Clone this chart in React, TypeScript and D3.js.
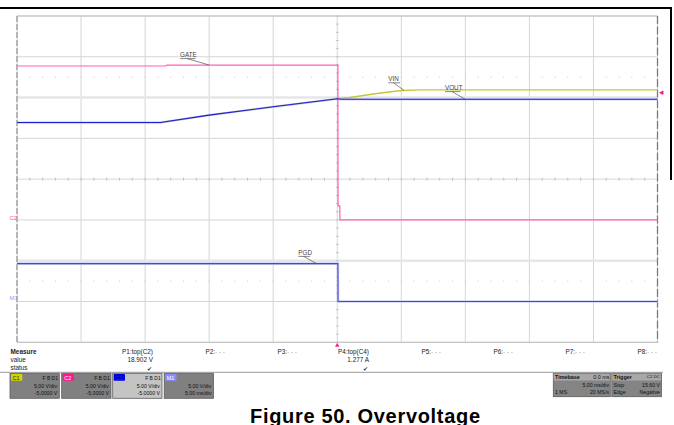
import React from "react";
import * as d3 from "d3";

// ---- data (time in ms, values in volts) ----
const vinTime = [-25, -13.8, -10, -5, 0, 1, 2.8, 5, 6.5, 25];
const vinVolts = [11.94, 11.94, 12.85, 13.87, 14.85, 15.01, 15.43, 15.87, 15.94, 15.94];
const gateTime = [-25, -13.4, -13.3, 0.05, 0.06, 0.2, 0.21, 25];
const gateVolts = [18.87, 18.87, 18.99, 18.99, 1.72, 1.72, 0, 0];
const voutTime = [-25, -13.8, -10, -5, 0, 0.3, 25];
const voutVolts = [11.94, 11.94, 12.85, 13.87, 14.85, 14.79, 14.79];
const pgdTime = [-25, 0.05, 0.06, 25];
const pgdVolts = [4.64, 4.64, 0, 0];

const channelNames = ["C1", "C2", "C3", "M1"];
const channelOffsetDiv = [-1, -1, -1, -3];
const voltsPerDiv = 5;
const triggerLevel = 15.6;

const measureHeads = ["P1:top(C2)", "P2:", "P3:", "P4:top(C4)", "P5:", "P6:", "P7:", "P8:"];
const measureValues = ["18.902 V", "", "", "1.277 A", "", "", "", ""];
const measureStatus = [true, false, false, true, false, false, false, false];

const boxScales = ["5.00 V/div", "5.00 V/div", "5.00 V/div", "5.00 V/div"];
const boxOffsets = ["-5.0000 V", "-5.0000 V", "-5.0000 V", "5.00 ms/div"];

const FONT = "'Liberation Sans', Arial, Helvetica, sans-serif";

const W = 674;
const H = 425;
const PX0 = 17;
const PX1 = 657.5;
const PY0 = 16;
const PY1 = 342.3;

const x = d3.scaleLinear().domain([-25, 25]).range([PX0, PX1]);
const yDiv = d3.scaleLinear().domain([-4, 4]).range([PY1, PY0]);

function linePath(ts: number[], vs: number[], offDiv: number) {
  const pts = ts.map((t, i) => [t, vs[i]] as [number, number]);
  const g = d3
    .line<[number, number]>()
    .x((d) => x(d[0]))
    .y((d) => yDiv(d[1] / voltsPerDiv + offDiv));
  return g(pts) || "";
}

function Label({ text, tx, ty, toT, toV, off }: { text: string; tx: number; ty: number; toT: number; toV: number; off: number }) {
  const w = text.length * 3.9;
  const ux = tx + w * 0.45;
  return (
    <g>
      <text x={tx} y={ty} fontSize={6.3} fontFamily={FONT} fill="#444">{text}</text>
      <line x1={tx} x2={tx + w} y1={ty + 1.4} y2={ty + 1.4} stroke="#555" strokeWidth={0.7} />
      <line x1={ux} y1={ty + 1.4} x2={x(toT)} y2={yDiv(toV / voltsPerDiv + off)} stroke="#555" strokeWidth={0.7} />
    </g>
  );
}

export default function App() {
  const vLines = d3.range(0, 11).map((i) => PX0 + (i * (PX1 - PX0)) / 10);
  const hLines = d3.range(-4, 5);
  const minorX = d3.range(0, 51).map((i) => PX0 + (i * (PX1 - PX0)) / 50);
  const minorY = d3.range(0, 41).map((i) => PY0 + (i * (PY1 - PY0)) / 40);
  const cx = x(0);
  const cy = yDiv(0);

  const boxX = [10, 61.7, 112.7, 164.2];
  const boxW = 49.3;
  const boxY = 373.3;
  const boxH = 25;
  const badgeFill = ["#d4d400", "#ff1a8c", "#0000e6", "#8c8cff"];
  const badgeText = ["#222", "#fff", "#2a2a90", "#fff"];

  const colRight = d3.range(0, 8).map((i) => 153 + i * 72);

  return (
    <svg width={W} height={H} style={{ position: "absolute", left: 0, top: 0, background: "#fff" }} fontFamily={FONT}>
      <rect x={0} y={0} width={W} height={H} fill="#fff" />
      {/* frame */}
      <line x1={0} x2={672} y1={8} y2={8} stroke="#000" strokeWidth={2} />
      <line x1={671} x2={671} y1={7} y2={180} stroke="#000" strokeWidth={2} />

      {/* grid */}
      {vLines.map((vx, i) => (
        <line key={"v" + i} x1={vx} x2={vx} y1={PY0} y2={PY1} stroke="#d6d6d6" strokeWidth={1} />
      ))}
      {hLines.map((d) => (
        <line key={"h" + d} x1={PX0} x2={PX1} y1={yDiv(d)} y2={yDiv(d)} stroke={Math.abs(d) === 2 ? "#e6e6e6" : "#d6d6d6"} strokeWidth={Math.abs(d) === 2 ? 2.5 : 1} />
      ))}
      {/* dotted rows */}
      {[2.5, -2.5].map((d) =>
        minorX.slice(1, -1).map((mx, i) => (
          <rect key={"dot" + d + i} x={mx - 0.5} y={yDiv(d) - 0.5} width={1} height={1} fill="#c8c8c8" />
        ))
      )}
      {/* center ticks */}
      {minorX.map((mx, i) => (
        <line key={"tx" + i} x1={mx} x2={mx} y1={cy - 1.5} y2={cy + 1.5} stroke="#c2c2c2" strokeWidth={1} />
      ))}
      {minorY.map((my, i) => (
        <line key={"ty" + i} x1={cx - 1.5} x2={cx + 1.5} y1={my} y2={my} stroke="#c2c2c2" strokeWidth={1} />
      ))}
      {/* borders */}
      <line x1={PX0} x2={PX1} y1={PY0} y2={PY0} stroke="#c0c0c0" strokeWidth={1} />
      <line x1={PX0} x2={PX1} y1={PY1} y2={PY1} stroke="#c0c0c0" strokeWidth={1} />
      <line x1={PX0} x2={PX0} y1={PY0} y2={PY1} stroke="#9a9a9a" strokeWidth={1.3} strokeDasharray="6,2" />
      <line x1={PX1} x2={PX1} y1={PY0} y2={PY1} stroke="#7a7a7a" strokeWidth={1.3} strokeDasharray="8,2.5" />

      {/* traces */}
      <path d={linePath(vinTime, vinVolts, channelOffsetDiv[0])} fill="none" stroke="#c6c63a" strokeWidth={1.4} />
      <path d={linePath(gateTime, gateVolts, channelOffsetDiv[1])} fill="none" stroke="#ff62b0" strokeWidth={1.2} />
      <path d={linePath(pgdTime, pgdVolts, channelOffsetDiv[3])} fill="none" stroke="#cdcdf6" strokeWidth={2.6} />
      <path d={linePath(pgdTime, pgdVolts, channelOffsetDiv[3])} fill="none" stroke="#4848c8" strokeWidth={1.1} />
      <path d={linePath(voutTime, voutVolts, channelOffsetDiv[2])} fill="none" stroke="#b8b8f2" strokeWidth={2.2} opacity={0.6} />
      <path d={linePath(voutTime, voutVolts, channelOffsetDiv[2])} fill="none" stroke="#1e1ed2" strokeWidth={1.1} />

      {/* labels */}
      <Label text="GATE" tx={180} ty={57.2} toT={-10} toV={18.99} off={-1} />
      <Label text="VIN" tx={388.3} ty={81.4} toT={5.2} toV={15.9} off={-1} />
      <Label text="VOUT" tx={445} ty={90.2} toT={10.0} toV={14.79} off={-1} />
      <Label text="PGD" tx={298.3} ty={255} toT={-1.6} toV={4.64} off={-3} />

      {/* channel markers on left */}
      <text x={9.5} y={219.8} fontSize={6} fill="#ff4aa0" fontFamily={FONT}>{channelNames[1]}</text>
      <text x={9.5} y={299.8} fontSize={6} fill="#9a9aff" fontFamily={FONT}>{channelNames[3]}</text>
      {/* trigger level marker */}
      <path d={`M${PX1 + 1.5},${yDiv(triggerLevel / voltsPerDiv + channelOffsetDiv[1])} l3.5,-2 v4 z`} fill="#ff1a8c" />
      <rect x={PX1 + 4.5} y={yDiv(triggerLevel / voltsPerDiv + channelOffsetDiv[1]) - 1.8} width={1.5} height={3.6} fill="#ff1a8c" />
      {/* trigger time marker */}
      <path d={`M${cx},${PY1 + 0.5} l-2.2,4 h4.4 z`} fill="#ff1a8c" />

      {/* measure table */}
      <text x={10.5} y={354} fontSize={6.4} fontWeight="bold" fill="#222">Measure</text>
      <text x={10.5} y={362} fontSize={6.4} fill="#222">value</text>
      <text x={10.5} y={370} fontSize={6.4} fill="#222">status</text>
      {measureHeads.map((h, i) => (
        <g key={"m" + i}>
          <text x={colRight[i]} y={354} fontSize={6.4} textAnchor="end" fill="#222">
            {h}
            {measureValues[i] === "" ? <tspan fill="#aaa">- - -</tspan> : null}
          </text>
          {measureValues[i] !== "" ? (
            <text x={colRight[i]} y={362} fontSize={6.4} textAnchor="end" fill="#222">{measureValues[i]}</text>
          ) : null}
          {measureStatus[i] ? (
            <text x={colRight[i] - 1.5} y={370.5} fontSize={6.4} textAnchor="end" fill="#333">✔</text>
          ) : null}
        </g>
      ))}
      <line x1={0} x2={663} y1={372.3} y2={372.3} stroke="#9a9a9a" strokeWidth={1} />

      {/* channel boxes */}
      {channelNames.map((c, i) => (
        <g key={"b" + c}>
          <rect x={boxX[i]} y={boxY} width={boxW} height={boxH} fill={i === 2 ? "#c4c4c4" : "#808080"} stroke="#5c5c5c" strokeWidth={0.8} />
          <rect x={boxX[i] + 1} y={boxY + 0.8} width={11.3} height={6.7} rx={1} fill={badgeFill[i]} />
          <text x={boxX[i] + 2.6} y={boxY + 6.2} fontSize={5.4} fill={badgeText[i]}>{c}</text>
          {i < 3 ? (
            <text x={boxX[i] + boxW - 1.3} y={boxY + 6.2} fontSize={5} textAnchor="end" fill="#111">F  B  D1</text>
          ) : null}
          <text x={boxX[i] + boxW - 2.2} y={boxY + 14.2} fontSize={5.2} textAnchor="end" fill="#111">{boxScales[i]}</text>
          <text x={boxX[i] + boxW - 2} y={boxY + 21.2} fontSize={5.2} textAnchor="end" fill="#111">{boxOffsets[i]}</text>
        </g>
      ))}

      {/* timebase */}
      <rect x={553.3} y={373.3} width={57} height={23.4} fill="#848484" stroke="#5c5c5c" strokeWidth={0.8} />
      <rect x={553.7} y={373.7} width={56.2} height={6.8} fill="#a8a8a8" />
      <text x={555} y={378.6} fontSize={5.4} fontWeight="bold" fill="#111">Timebase</text>
      <text x={609.5} y={378.6} fontSize={5.4} textAnchor="end" fill="#111">0.0 ms</text>
      <text x={609} y={386.8} fontSize={5.2} textAnchor="end" fill="#111">5.00 ms/div</text>
      <text x={555} y={393.8} fontSize={5.2} fill="#111">1 MS</text>
      <text x={609} y={393.8} fontSize={5.2} textAnchor="end" fill="#111">20 MS/s</text>

      {/* trigger */}
      <rect x={611.8} y={373.3} width={49.6} height={23.4} fill="#848484" stroke="#5c5c5c" strokeWidth={0.8} />
      <rect x={612.2} y={373.7} width={48.8} height={6.8} fill="#a8a8a8" />
      <text x={613.5} y={378.6} fontSize={5.4} fontWeight="bold" fill="#111">Trigger</text>
      <text x={660} y={378.4} fontSize={4.4} textAnchor="end" fill="#111">C2  DC</text>
      <text x={613.5} y={386.8} fontSize={5.2} fill="#111">Stop</text>
      <text x={660} y={386.8} fontSize={5.2} textAnchor="end" fill="#111">15.60 V</text>
      <text x={613.5} y={393.8} fontSize={5.2} fill="#111">Edge</text>
      <text x={660} y={393.8} fontSize={5.2} textAnchor="end" fill="#111">Negative</text>

      {/* caption */}
      <text x={250} y={422.5} fontSize={20} fontWeight="bold" fill="#000" textLength={230} lengthAdjust="spacing">Figure 50. Overvoltage</text>
    </svg>
  );
}
